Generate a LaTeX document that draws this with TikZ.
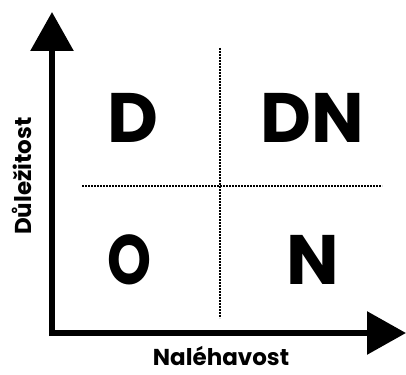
\documentclass[tikz,border=0pt]{standalone}
\usepackage{fontspec}
\setmainfont{Poppins}
\usetikzlibrary{arrows.meta}
\tikzset{
  axis/.style={line width=6pt,-{Triangle[width=42pt,length=39pt]}},
  divider/.style={line width=1.5pt,dash pattern=on 2pt off 1pt},
  quad/.style={font=\fontsize{70}{70}\selectfont\bfseries,inner sep=0pt},
  axlabel/.style={font=\fontsize{23}{23}\selectfont\bfseries,inner sep=0pt}
}
\begin{document}
\begin{tikzpicture}[x=1pt,y=-1pt]
\useasboundingbox (0,0) rectangle (406,374);
\coordinate (origin) at (49,333);
\coordinate (ytip) at (52,12);
\coordinate (xtip) at (406,333);
\draw[axis] (52,336) -- (ytip);
\draw[axis] (origin) -- (xtip);
\coordinate (vtop) at (220,48);
\coordinate (vbot) at (220,318);
\coordinate (hl) at (82,186);
\coordinate (hr) at (382,186);
\draw[divider] (vtop) -- (vbot);
\draw[divider] (hl) -- (hr);
\node[quad] (d) at (133,118) {D};
\node[quad] (dn) at (312,118) {DN};
\node[quad,xscale=0.8] (o) at (130,260) {O};
\node[quad] (n) at (313,260) {N};
\node[axlabel,anchor=base] (xl) at (221,365) {Naléhavost};
\node[axlabel,anchor=base,rotate=90] (yl) at (31,176) {Důležitost};
\end{tikzpicture}
\end{document}
